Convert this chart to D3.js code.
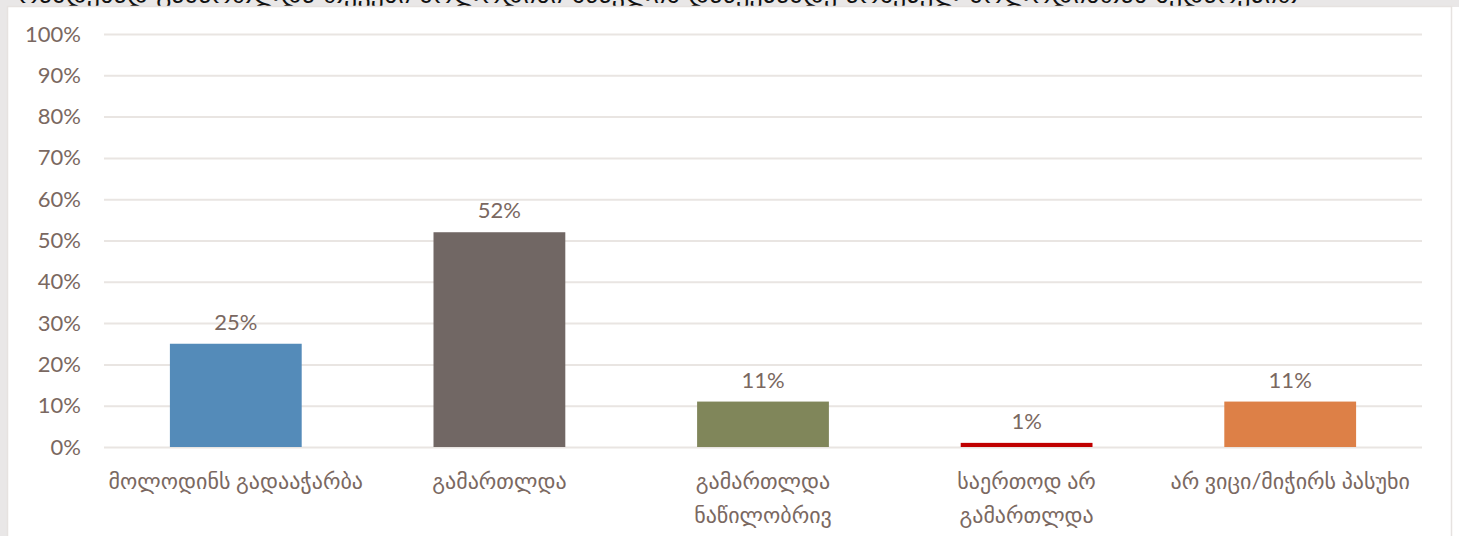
<!DOCTYPE html>
<html>
<head>
<meta charset="utf-8">
<script src="https://cdn.jsdelivr.net/npm/d3@7"></script>
<style>
  body { margin: 0; background: #fff; }
  svg { display: block; }
</style>
</head>
<body>
<div id="chart"></div>
<script>
// categories (line breaks as in the original labels)
const categories = ["მოლოდინს გადააჭარბა", "გამართლდა", "გამართლდა\nნაწილობრივ", "საერთოდ არ\nგამართლდა", "არ ვიცი/მიჭირს პასუხი"];
const values = [0.25, 0.52, 0.11, 0.01, 0.11];
const barColors = ["#548bb9", "#716764", "#80865a", "#c00000", "#dd8047"];
const yTicks = [0, 0.1, 0.2, 0.3, 0.4, 0.5, 0.6, 0.7, 0.8, 0.9, 1];
const title = "რამდენად გამართლდა თქვენი მოლოდინი სწავლის დაწყებამდე არსებულ მოლოდინთან შედარებით";

const width = 1459, height = 536;
const margin = { top: 34, right: 37, bottom: 89, left: 104 };
const textColor = "#7a6861";
const font = "Lato, 'DejaVu Sans', sans-serif";

const svg = d3.select("#chart")
  .append("svg")
    .attr("width", width)
    .attr("height", height);

// grey strips (top and left) behind the panel
svg.append("rect")
    .attr("x", 0).attr("y", 0)
    .attr("width", width).attr("height", 7)
    .attr("fill", "#e9e7e7");
svg.append("rect")
    .attr("x", 0).attr("y", 0)
    .attr("width", 7).attr("height", height)
    .attr("fill", "#e9e7e7");

// clipped title strip at the very top
svg.append("text")
    .text(title)
    .attr("x", 18)
    .attr("y", 3)
    .attr("fill", "#111")
    .style("font-family", "'DejaVu Sans', sans-serif")
    .style("font-size", "26px");

// white panel
svg.append("rect")
    .attr("x", 7.5)
    .attr("y", 6.5)
    .attr("width", 1444)
    .attr("height", 540)
    .attr("fill", "#fff")
    .attr("stroke", "#e6e2e0")
    .attr("stroke-width", 1.5);

const x = d3.scaleBand()
  .domain(categories)
  .range([margin.left, width - margin.right])
  .paddingInner(0.5)
  .paddingOuter(0.25);

const y = d3.scaleLinear()
  .domain([0, 1])
  .range([height - margin.bottom, margin.top]);

// gridlines + y labels
const yAxis = svg.append("g")
    .attr("transform", `translate(${margin.left},0)`)
    .call(d3.axisLeft(y)
      .tickValues(yTicks)
      .tickSize(-(width - margin.left - margin.right))
      .tickPadding(23)
      .tickFormat(d3.format(".0%")));
yAxis.select(".domain").remove();
yAxis.selectAll(".tick line")
    .attr("stroke", "#e9e5e2")
    .attr("stroke-width", 2);
yAxis.selectAll(".tick text")
    .attr("fill", textColor)
    .style("font-family", font)
    .style("font-size", "22px");

// bars
svg.selectAll(".bar")
  .data(values)
  .join("rect")
    .attr("class", "bar")
    .attr("x", (d, i) => x(categories[i]))
    .attr("y", d => y(d))
    .attr("width", x.bandwidth())
    .attr("height", d => y(0) - y(d))
    .attr("fill", (d, i) => barColors[i]);

// value labels
svg.selectAll(".val")
  .data(values)
  .join("text")
    .attr("class", "val")
    .text(d => d3.format(".0%")(d))
    .attr("x", (d, i) => x(categories[i]) + x.bandwidth() / 2)
    .attr("y", d => y(d) - 14)
    .attr("text-anchor", "middle")
    .attr("fill", textColor)
    .style("font-family", font)
    .style("font-size", "22px");

// category labels
const catLabels = svg.selectAll(".cat")
  .data(categories)
  .join("text")
    .attr("class", "cat")
    .attr("x", d => x(d) + x.bandwidth() / 2)
    .attr("y", 489)
    .attr("text-anchor", "middle")
    .attr("fill", textColor)
    .style("font-family", font)
    .style("font-size", "22px");
catLabels.each(function(d) {
  d.split("\n").forEach((line, j) => {
    d3.select(this).append("tspan")
      .attr("x", x(d) + x.bandwidth() / 2)
      .attr("dy", j === 0 ? 0 : 34)
      .text(line);
  });
});
</script>
</body>
</html>
